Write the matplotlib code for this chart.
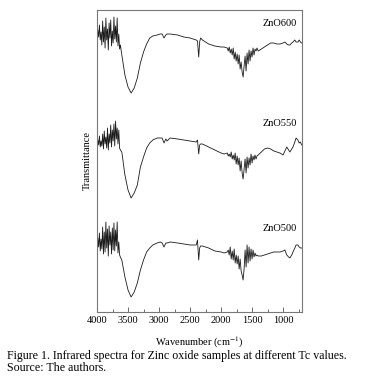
import numpy as np
import matplotlib
matplotlib.use("Agg")
import matplotlib.pyplot as plt
from matplotlib.ticker import MultipleLocator

plt.rcParams['font.family'] = ['Liberation Serif', 'DejaVu Serif']
plt.rcParams['mathtext.fontset'] = 'stix'

# wavenumber grid (cm-1), shared by the three spectra
wavenumber = [
    4000, 3987, 3974, 3961, 3948, 3935, 3922, 3909, 3896, 3883,
    3870, 3857, 3844, 3831, 3818, 3805, 3792, 3779, 3766, 3753,
    3740, 3727, 3714, 3701, 3688, 3675, 3662, 3649, 3636, 3623,
    3600, 3550, 3500, 3450, 3400, 3350, 3300, 3250, 3200, 3150,
    3100, 3030, 2980, 2950, 2920, 2890, 2870, 2820, 2700, 2600,
    2500, 2400, 2380, 2360, 2345, 2330, 2300, 2200, 2100, 2000, 1950,
    1900, 1884, 1868, 1852, 1836, 1820, 1804, 1788, 1772, 1756,
    1740, 1724, 1708, 1692, 1676, 1660, 1644, 1628, 1612, 1596,
    1580, 1564, 1548, 1532, 1516, 1500, 1484, 1468, 1452, 1436, 1420,
    1400, 1350, 1300, 1250, 1200, 1150, 1100, 1050, 1000, 970,
    940, 910, 890, 860, 840, 810, 790, 760, 740, 720, 700,
]

# transmittance (a.u.)
zno600 = [
    67, 70, 63, 75, 60, 68, 55, 79, 58, 73,
    52, 82, 60, 71, 50, 77, 62, 80, 54, 69,
    57, 83, 61, 74, 58, 82, 54, 66, 51, 55,
    45, 25, 13, 7, 12, 22, 37, 48, 56, 62,
    64, 65, 66, 66, 62, 65, 66, 66, 65, 63,
    62, 60, 59, 43, 58, 62, 60, 56, 54, 53, 53,
    52, 49, 53, 47, 51, 45, 52, 41, 48, 39,
    46, 36, 45, 31, 38, 28, 23, 34, 44, 29,
    47, 36, 50, 39, 49, 43, 52, 45, 51, 49, 52,
    49, 51, 53, 55, 57, 57, 56, 56, 57, 58,
    56, 55, 55, 57, 58, 60, 58, 58, 60, 58, 57,
]

zno550 = [
    57, 60, 55, 64, 53, 59, 54, 66, 51, 69,
    56, 63, 52, 72, 50, 66, 57, 75, 53, 70,
    59, 76, 54, 79, 61, 72, 56, 70, 52, 50,
    48, 25, 10, 2, 7, 15, 33, 43, 52, 57,
    60, 62, 62, 62, 57, 61, 59, 62, 61, 60,
    59, 58, 60, 46, 55, 56, 56, 53, 50, 47, 46,
    47, 44, 46, 43, 48, 41, 45, 40, 47, 36,
    44, 35, 42, 29, 39, 27, 21, 31, 41, 27,
    43, 32, 42, 35, 46, 37, 44, 40, 45, 41, 44,
    45, 48, 51, 52, 51, 49, 48, 47, 45, 49,
    53, 50, 48, 51, 53, 58, 62, 60, 57, 58, 55,
]

zno500 = [
    58, 62, 53, 67, 49, 61, 51, 73, 46, 68,
    48, 78, 52, 71, 44, 74, 55, 68, 46, 72,
    50, 77, 49, 70, 54, 78, 47, 58, 45, 43,
    40, 23, 10, 3, 8, 17, 30, 40, 48, 52,
    55, 57, 58, 57, 53, 57, 57, 58, 57, 56,
    55, 55, 60, 40, 52, 54, 54, 52, 49, 48, 47,
    48, 50, 45, 53, 41, 49, 40, 51, 37, 45,
    36, 44, 31, 41, 29, 25, 20, 31, 50, 33,
    55, 37, 53, 39, 51, 41, 50, 43, 47, 44, 45,
    44, 44, 45, 46, 47, 48, 48, 48, 49, 50,
    45, 43, 42, 45, 48, 52, 55, 55, 53, 52, 52,
]

samples = ["ZnO600", "ZnO550", "ZnO500"]
spectra = [zno600, zno550, zno500]
offsets = [200, 100, 0]
label_y = [0.954, 0.623, 0.278]

fig = plt.figure(figsize=(3.75, 3.79), dpi=100)
ax = fig.add_axes([0.2587, 0.1768, 0.5467, 0.7968])

wn = np.array(wavenumber)
for name, spec, off, ly in zip(samples, spectra, offsets, label_y):
    ax.plot(wn, np.array(spec) + off, color='#1a1a1a', lw=0.6)
    ax.text(0.976, ly, name, transform=ax.transAxes, ha='right', va='center',
            fontsize=7.5)

ax.set_xlim(4000, 694)
ax.set_ylim(-12, 290)
ax.xaxis.set_major_locator(MultipleLocator(500))
ax.xaxis.set_minor_locator(MultipleLocator(250))
ax.set_yticks([])
ax.tick_params(axis='x', which='both', direction='in', top=False, labelsize=7.5,
               pad=3, color='#555555')
ax.tick_params(axis='x', which='major', length=3.5, width=0.6)
ax.tick_params(axis='x', which='minor', length=2, width=0.6)
for s in ax.spines.values():
    s.set_linewidth(0.8)
    s.set_color('#777777')

ax.set_xlabel("Wavenumber (cm$^{-1}$)", fontsize=7.5, labelpad=7)
ax.set_ylabel("Transmittance", fontsize=7.5, labelpad=4)

fig.text(0.018, 0.061, "Figure 1. Infrared spectra for Zinc oxide samples at different Tc values.",
         fontsize=8.6, va='center', ha='left')
fig.text(0.018, 0.030, "Source: The authors.", fontsize=8.6, va='center', ha='left')

fig.savefig("out.png", dpi=100)
